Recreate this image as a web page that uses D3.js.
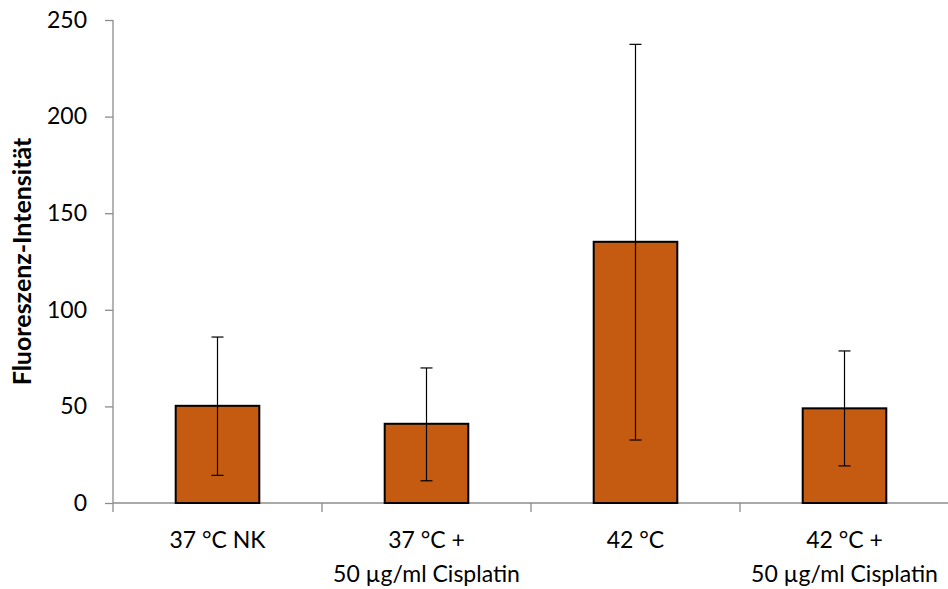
<!DOCTYPE html>
<html><head><meta charset="utf-8">
<script src="https://cdn.jsdelivr.net/npm/d3@7"></script>
<style>body{margin:0;background:#fff}svg{display:block}</style>
</head><body>
<script>
const categories = [["37 °C NK"], ["37 °C +", "50 µg/ml Cisplatin"], ["42 °C"], ["42 °C +", "50 µg/ml Cisplatin"]];
const values = [50.3, 41.0, 135.2, 49.0];
const errUpper = [85.9, 69.9, 237.4, 78.7];
const errLower = [14.3, 11.5, 32.6, 19.2];
const yTicks = [0, 50, 100, 150, 200, 250];
const yTitle = "Fluoreszenz-Intensität";

const W = 948, H = 589;
const m = {left: 113, right: -1, top: 20, bottom: 86};
const font = "Lato, 'Open Sans', sans-serif";
const svg = d3.select("body").append("svg").attr("width", W).attr("height", H);

const x = d3.scaleBand().domain(d3.range(categories.length)).range([m.left, W - m.right]).paddingInner(0.6).paddingOuter(0.3);
const y = d3.scaleLinear().domain([0, 250]).range([H - m.bottom, m.top]);
const axisColor = "#8c8c8c";

// y axis
const ya = svg.append("g").attr("transform", `translate(${m.left},0)`)
  .call(d3.axisLeft(y).tickValues(yTicks).tickSize(8).tickPadding(18));
ya.select(".domain").remove();
ya.selectAll(".tick line").attr("stroke", axisColor).attr("stroke-width", 1.3);
ya.selectAll(".tick text").attr("font-family", font).attr("font-size", 23).attr("fill", "#000");
svg.append("line").attr("x1", m.left).attr("x2", m.left).attr("y1", y(250)).attr("y2", y(0) + 9)
  .attr("stroke", axisColor).attr("stroke-width", 1.3);

// x axis
svg.append("line").attr("x1", m.left).attr("x2", W).attr("y1", y(0)).attr("y2", y(0))
  .attr("stroke", axisColor).attr("stroke-width", 1.3);
const step = x.step();
const bandEdges = d3.range(categories.length).map(i => x(i) - (step - x.bandwidth()) / 2);
bandEdges.slice(1).forEach(e => {
  svg.append("line").attr("x1", e).attr("x2", e).attr("y1", y(0)).attr("y2", y(0) + 9)
    .attr("stroke", axisColor).attr("stroke-width", 1.3);
});

// bars
svg.selectAll("rect.bar").data(values).join("rect").attr("class", "bar")
  .attr("x", (d, i) => x(i)).attr("width", x.bandwidth())
  .attr("y", d => y(d)).attr("height", d => y(0) - y(d))
  .attr("fill", "#C55A11").attr("stroke", "#000").attr("stroke-width", 2);

// error bars
const eg = svg.append("g").attr("stroke", "#000").attr("stroke-width", 1.2);
values.forEach((v, i) => {
  const cx = x(i) + x.bandwidth() / 2;
  eg.append("line").attr("x1", cx).attr("x2", cx).attr("y1", y(errUpper[i])).attr("y2", y(errLower[i]));
  [errUpper[i], errLower[i]].forEach(e => {
    eg.append("line").attr("x1", cx - 6).attr("x2", cx + 6).attr("y1", y(e)).attr("y2", y(e));
  });
});

// x labels
categories.forEach((lines, i) => {
  const cx = x(i) + x.bandwidth() / 2;
  const t = svg.append("text").attr("text-anchor", "middle").attr("font-family", font)
    .attr("font-size", 23).attr("fill", "#000");
  lines.forEach((l, j) => t.append("tspan").attr("x", cx).attr("y", 548 + j * 34).text(l));
});

// y title
svg.append("text").attr("transform", `translate(31,${(y(0) + y(250)) / 2}) rotate(-90)`)
  .attr("text-anchor", "middle").attr("font-family", font).attr("font-weight", "bold")
  .attr("font-size", 25).attr("fill", "#000").text(yTitle);
</script>
</body></html>
